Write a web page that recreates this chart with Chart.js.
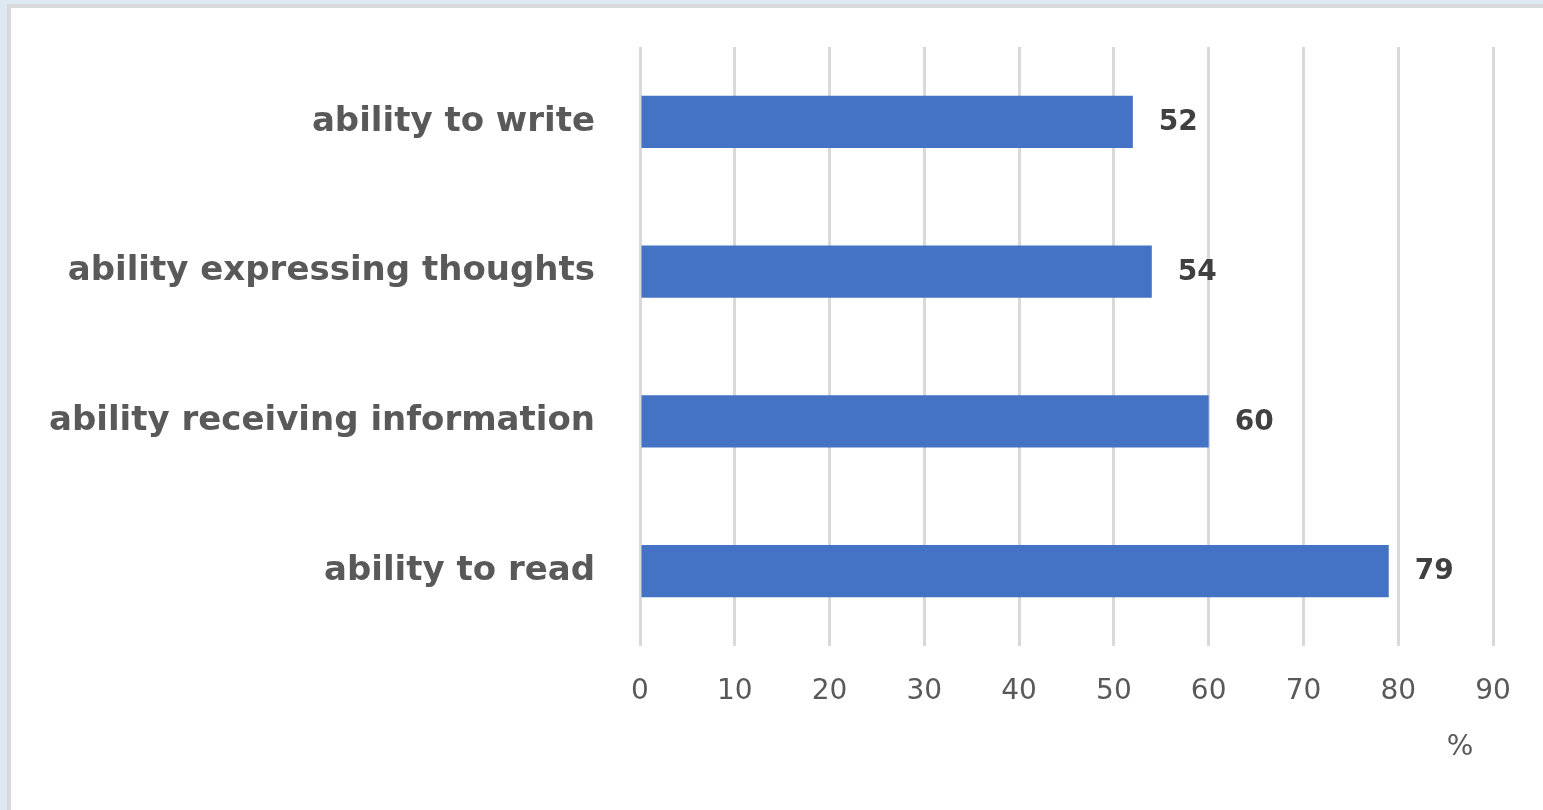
<!DOCTYPE html>
<html>
<head>
    <title>Abilities</title>
    <script src="https://cdn.jsdelivr.net/npm/chart.js"></script>
    <style>
        html, body { margin: 0; padding: 0; background: #dde8f3; overflow: hidden; }
        #frame {
            position: absolute; left: 7px; top: 4px; right: -10px; bottom: -10px;
            border-left: 4px solid #d9d9d9; border-top: 4px solid #d9d9d9;
            background: #fff;
        }
        #wrap { position: absolute; left: 0; top: 0; width: 1532px; height: 802px; }
    </style>
</head>
<body>
    <div id="frame">
        <div id="wrap"><canvas id="abilityChart"></canvas></div>
    </div>

    <script>
        const skills = ['ability to write', 'ability expressing thoughts', 'ability receiving information', 'ability to read'];
        const percents = [52, 54, 60, 79];
        const axisMax = 90;
        const axisStep = 10;

        // value labels right of each bar
        const barValues = {
            id: 'barValues',
            afterDatasetsDraw(chart) {
                const ctx = chart.ctx;
                const meta = chart.getDatasetMeta(0);
                ctx.save();
                ctx.font = 'bold 28px "DejaVu Sans"';
                ctx.fillStyle = '#404040';
                ctx.textAlign = 'left';
                ctx.textBaseline = 'middle';
                meta.data.forEach((bar, i) => {
                    ctx.fillText(String(percents[i]), bar.x + 26, bar.y + 1);
                });
                ctx.restore();
            }
        };

        new Chart(document.getElementById('abilityChart'), {
            type: 'bar',
            data: {
                labels: skills,
                datasets: [{
                    data: percents,
                    backgroundColor: '#4472c4',
                    barPercentage: 0.35,
                    categoryPercentage: 1
                }]
            },
            options: {
                indexAxis: 'y',
                responsive: true,
                maintainAspectRatio: false,
                animation: false,
                layout: { padding: { top: 39, right: 50, bottom: 44, left: 0 } },
                plugins: {
                    legend: { display: false },
                    tooltip: { enabled: false }
                },
                scales: {
                    x: {
                        min: 0,
                        max: axisMax,
                        afterFit(scale) {
                            scale.height = 120;
                        },
                        ticks: {
                            stepSize: axisStep,
                            color: '#595959',
                            font: { family: 'DejaVu Sans', size: 28 },
                            padding: 29
                        },
                        grid: { color: '#d9d9d9', lineWidth: 3, drawTicks: false },
                        border: { display: false },
                        title: {
                            display: true,
                            text: '%\u2002\u2009',
                            align: 'end',
                            color: '#595959',
                            font: { family: 'DejaVu Sans', size: 28 },
                            padding: { top: 21, bottom: 1 }
                        }
                    },
                    y: {
                        afterFit(scale) {
                            scale.width = 629;
                            scale.paddingTop = 0;
                            scale.paddingBottom = 0;
                        },
                        ticks: {
                            color: '#595959',
                            font: { family: 'DejaVu Sans', size: 34, weight: 'bold' },
                            padding: 37
                        },
                        grid: { display: false },
                        border: { display: false }
                    }
                }
            },
            plugins: [barValues]
        });
    </script>
</body>
</html>
